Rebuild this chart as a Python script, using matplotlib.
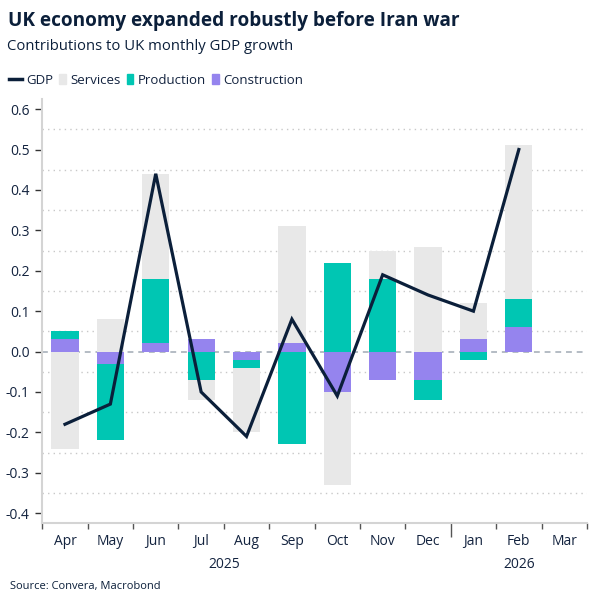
import matplotlib
matplotlib.use("Agg")
import matplotlib.pyplot as plt
import matplotlib.transforms as mtransforms
from matplotlib.legend_handler import HandlerBase
from matplotlib.lines import Line2D
from matplotlib.patches import Patch
import numpy as np

plt.rcParams["font.family"] = ["Open Sans", "DejaVu Sans"]

# data
months = ["Apr", "May", "Jun", "Jul", "Aug", "Sep", "Oct", "Nov", "Dec", "Jan", "Feb", "Mar"]
years = ["2025", "2026"]
year_pos = [3.5, 10]
services = [-0.24, 0.08, 0.26, -0.05, -0.16, 0.29, -0.23, 0.07, 0.26, 0.09, 0.38, np.nan]
production = [0.02, -0.19, 0.16, -0.07, -0.02, -0.23, 0.22, 0.18, -0.05, -0.02, 0.07, np.nan]
construction = [0.03, -0.03, 0.02, 0.03, -0.02, 0.02, -0.10, -0.07, -0.07, 0.03, 0.06, np.nan]
gdp = [-0.18, -0.13, 0.44, -0.10, -0.21, 0.08, -0.11, 0.19, 0.14, 0.10, 0.50, np.nan]

NAVY = "#0b1f3a"
TEXT = "#13233f"
C_SERV = "#e8e8e8"
C_PROD = "#00c6b3"
C_CONS = "#9584ee"


class WideLine(HandlerBase):
    # legend line a bit longer than the square patches
    def create_artists(self, legend, orig, xdescent, ydescent, width, height, fontsize, trans):
        y = height / 2 - ydescent
        ln = Line2D([-xdescent - width * 0.9, -xdescent + width], [y, y],
                    color=orig.get_color(), lw=orig.get_linewidth(), transform=trans)
        return [ln]


fig = plt.figure(figsize=(6.05, 6.06), dpi=100)
ax = fig.add_axes([0.0699, 0.1365, 0.9002, 0.7001])

x = np.arange(len(months))
pos_base = np.zeros(len(months))
neg_base = np.zeros(len(months))
for vals, col in [(construction, C_CONS), (production, C_PROD), (services, C_SERV)]:
    v = np.nan_to_num(np.array(vals, dtype=float))
    bottom = np.where(v >= 0, pos_base, neg_base)
    ax.bar(x, v, 0.6, bottom=bottom, color=col, edgecolor="none", zorder=2)
    pos_base += np.where(v > 0, v, 0)
    neg_base += np.where(v < 0, v, 0)

ax.axhline(0, color="#b4bcc4", lw=1.4, ls=(0, (3, 2.5)), zorder=1)
ax.plot(x, gdp, color=NAVY, lw=2.3, zorder=3, solid_joinstyle="miter")

ax.set_xlim(-0.5, len(months) - 0.5)
ax.set_ylim(-0.425, 0.625)

yt = np.round(np.arange(-0.4, 0.61, 0.1), 1)
ax.set_yticks(yt)
ax.set_yticklabels([f"{abs(t):.1f}" if t == 0 else f"{t:.1f}" for t in yt])
ax.set_yticks(np.arange(-0.35, 0.56, 0.1), minor=True)
ax.yaxis.grid(True, which="minor", color="#c8c8c8", ls=(0, (1, 3)), lw=1)
ax.tick_params(axis="y", which="major", length=5, width=1, color="#333333",
               labelsize=10, labelcolor=TEXT, pad=4)
ax.tick_params(axis="y", which="minor", length=0)

ax.set_xticks(x)
ax.set_xticklabels(months)
ax.set_xticks(np.arange(-0.5, len(months)), minor=True)
ax.tick_params(axis="x", which="major", length=0, labelsize=10, labelcolor=TEXT, pad=8)
ax.tick_params(axis="x", which="minor", length=4, width=1, color="#555555")
ax.xaxis.get_minor_ticks()[9].tick1line.set_markersize(10)

for s in ["top", "right"]:
    ax.spines[s].set_visible(False)
for s in ["left", "bottom"]:
    ax.spines[s].set_color("#d4d4d4")
    ax.spines[s].set_linewidth(1.5)

trans = mtransforms.blended_transform_factory(ax.transData, ax.transAxes)
for yr, xp in zip(years, year_pos):
    ax.text(xp, -0.097, yr, transform=trans, ha="center", va="center", fontsize=10, color=TEXT)

fig.text(0.013, 1 - 21 / 606, "UK economy expanded robustly before Iran war",
         fontsize=13.7, fontweight="bold", color=NAVY, va="center", ha="left")
fig.text(0.012, 1 - 47 / 606, "Contributions to UK monthly GDP growth",
         fontsize=10.7, color=NAVY, va="center", ha="left")
fig.text(0.016, 1 - 586 / 606, "Source: Convera, Macrobond",
         fontsize=8, color=NAVY, va="center", ha="left")

gdp_handle = Line2D([], [], color=NAVY, lw=2.5)
handles = [gdp_handle, Patch(color=C_SERV), Patch(color=C_PROD), Patch(color=C_CONS)]
fig.legend(handles, ["GDP", "Services", "Production", "Construction"],
           loc="center left", bbox_to_anchor=(0.016, 1 - 80 / 606), ncol=4,
           frameon=False, fontsize=9.5, handlelength=0.5, handleheight=0.75,
           handletextpad=0.35, columnspacing=0.45, labelcolor=TEXT, borderaxespad=0,
           handler_map={gdp_handle: WideLine()})

fig.savefig("out.png", dpi=100)
